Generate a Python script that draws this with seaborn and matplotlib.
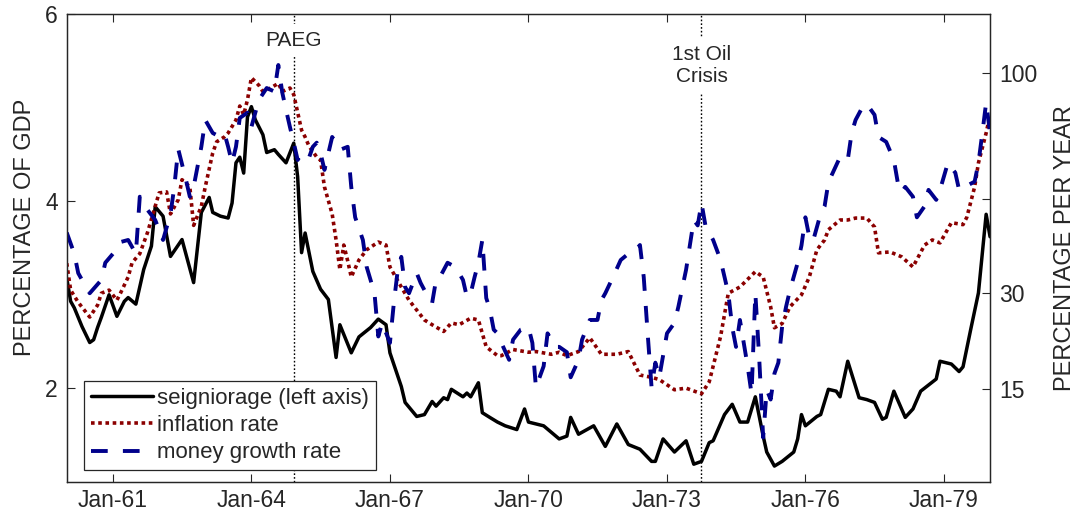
import numpy as np
import pandas as pd
import seaborn as sns
import matplotlib.pyplot as plt
import matplotlib.dates as mdates

# months counted from Jan-60 (0 = Jan-60, 240 = Jan-80)
seign_month = [0, 1, 2, 4, 6, 7, 8, 9, 11, 13,
               15, 16, 18, 20, 22, 23, 25, 27, 30, 33,
               35, 37, 38, 40, 42, 43, 44, 45, 46, 47,
               48, 49, 51, 52, 54, 55, 57, 59, 60, 61,
               62, 64, 66, 68, 70, 71, 74, 76, 79, 81,
               83, 84, 87, 88, 91, 93, 95, 96, 98, 99,
               100, 103, 104, 105, 107, 108, 110, 112, 114, 117,
               119, 120, 124, 126, 128, 130, 131, 133, 137, 140,
               143, 146, 149, 152, 153, 155, 158, 161, 163, 165,
               167, 168, 171, 173, 175, 177, 179, 181, 182, 184,
               186, 189, 190, 191, 192, 195, 196, 198, 200, 201,
               203, 206, 208, 210, 212, 213, 215, 218, 220, 222,
               226, 227, 230, 232, 233, 235, 237, 238, 239, 240]
# seigniorage, percentage of GDP (left axis)
seign_value = [3.18, 2.93, 2.86, 2.66, 2.49, 2.52, 2.65, 2.76, 3.00, 2.77,
               2.93, 2.97, 2.90, 3.27, 3.52, 3.94, 3.84, 3.41, 3.59, 3.13,
               3.88, 4.04, 3.88, 3.84, 3.82, 3.98, 4.41, 4.47, 4.30, 4.90,
               5.01, 4.87, 4.71, 4.52, 4.55, 4.50, 4.41, 4.62, 4.26, 3.45,
               3.66, 3.25, 3.06, 2.95, 2.33, 2.68, 2.38, 2.55, 2.65, 2.74,
               2.68, 2.38, 2.02, 1.85, 1.70, 1.72, 1.86, 1.81, 1.90, 1.88,
               1.99, 1.91, 1.95, 1.91, 2.06, 1.74, 1.69, 1.64, 1.60, 1.56,
               1.78, 1.64, 1.60, 1.53, 1.46, 1.49, 1.69, 1.51, 1.60, 1.38,
               1.62, 1.40, 1.35, 1.22, 1.22, 1.46, 1.32, 1.44, 1.19, 1.22,
               1.42, 1.44, 1.72, 1.83, 1.64, 1.64, 1.91, 1.49, 1.32, 1.17,
               1.22, 1.32, 1.46, 1.72, 1.60, 1.70, 1.72, 1.99, 1.97, 1.91,
               2.29, 1.90, 1.88, 1.85, 1.67, 1.69, 1.97, 1.69, 1.78, 1.97,
               2.10, 2.29, 2.26, 2.18, 2.23, 2.63, 3.02, 3.45, 3.86, 3.62]

infl_month = [0, 1, 3, 6, 8, 9, 11, 13, 14, 16,
              17, 19, 21, 23, 24, 26, 27, 29, 30, 32,
              33, 35, 36, 38, 39, 41, 42, 44, 45, 46,
              47, 48, 50, 51, 53, 55, 56, 58, 59, 61,
              62, 63, 65, 66, 67, 69, 70, 71, 72, 73,
              74, 76, 78, 81, 83, 84, 87, 89, 93, 95,
              98, 100, 102, 105, 107, 109, 112, 113, 116, 120,
              122, 126, 128, 130, 133, 136, 139, 143, 146, 149,
              152, 154, 158, 161, 165, 167, 170, 172, 175, 179,
              181, 183, 184, 186, 188, 191, 193, 195, 197, 198,
              201, 203, 205, 208, 210, 211, 214, 217, 220, 223,
              225, 227, 230, 233, 234, 236, 237, 239, 240]
# inflation, percentage per year (right axis)
infl_value = [36.0, 30.5, 28.2, 25.6, 27.7, 29.9, 30.5, 28.6, 29.9, 33.1,
              36.1, 38.1, 43.1, 50.0, 53.8, 54.1, 47.9, 51.8, 57.8, 55.6,
              44.9, 50.0, 55.6, 66.6, 70.6, 72.4, 73.9, 79.0, 84.8, 81.1,
              87.5, 97.7, 94.0, 91.2, 92.8, 95.0, 91.2, 92.8, 89.8, 75.0,
              72.4, 69.0, 65.2, 64.2, 55.6, 47.9, 41.3, 34.6, 40.1, 36.5,
              33.1, 36.7, 39.0, 40.8, 40.1, 35.2, 31.1, 28.6, 25.1, 24.3,
              23.2, 24.6, 24.3, 25.4, 25.1, 20.8, 19.5, 19.5, 20.4, 20.0,
              20.1, 19.7, 20.0, 19.5, 20.1, 22.2, 19.7, 19.7, 20.1, 16.8,
              16.5, 16.2, 14.9, 15.1, 14.4, 15.9, 22.4, 29.9, 31.1, 34.2,
              33.1, 27.4, 23.8, 24.5, 27.4, 29.6, 33.1, 39.0, 41.3, 43.8,
              46.3, 46.3, 46.8, 46.8, 44.5, 38.3, 38.5, 37.4, 35.2, 40.1,
              41.3, 40.6, 45.6, 45.1, 47.0, 55.6, 63.2, 73.9, 81.1]

money_month = [0, 2, 3, 5, 6, 9, 10, 12, 14, 16,
               18, 19, 21, 23, 25, 27, 28, 29, 31, 32,
               33, 34, 35, 36, 38, 39, 41, 42, 43, 44,
               45, 47, 48, 49, 50, 52, 54, 55, 56, 57,
               58, 59, 60, 61, 63, 64, 65, 66, 67, 69,
               70, 71, 73, 74, 75, 77, 78, 80, 81, 82,
               84, 85, 86, 87, 88, 89, 91, 92, 93, 95,
               96, 97, 99, 101, 102, 103, 104, 105, 106, 107,
               108, 109, 110, 111, 112, 113, 115, 116, 118, 120,
               121, 122, 124, 125, 127, 128, 130, 131, 133, 134,
               136, 138, 139, 140, 142, 144, 146, 148, 149, 150,
               151, 152, 153, 154, 156, 158, 159, 161, 163, 164,
               165, 166, 168, 170, 172, 173, 174, 175, 177, 178,
               179, 180, 181, 182, 183, 184, 185, 186, 187, 188,
               190, 191, 192, 193, 194, 196, 197, 198, 201, 203,
               204, 205, 207, 208, 210, 211, 213, 215, 216, 217,
               218, 220, 221, 223, 224, 226, 227, 229, 231, 232,
               236, 237, 238, 239, 240]
# money growth, percentage per year (right axis)
money_value = [43.1, 38.1, 33.9, 31.1, 29.9, 32.5, 36.1, 38.1, 40.8, 41.3,
               38.1, 52.7, 49.0, 46.3, 41.3, 47.9, 55.6, 68.0, 57.8, 52.7,
               55.6, 62.0, 68.8, 79.0, 73.9, 73.1, 73.9, 68.8, 63.2, 68.8,
               79.8, 82.0, 76.2, 82.0, 87.5, 92.8, 91.2, 104.0, 90.8, 83.2,
               76.2, 70.3, 64.2, 66.5, 65.0, 68.8, 70.3, 66.6, 60.9, 72.4,
               70.3, 67.7, 68.8, 55.6, 47.0, 41.3, 35.2, 29.9, 22.4, 24.6,
               21.4, 28.1, 33.9, 37.4, 31.1, 29.9, 33.9, 31.9, 30.5, 28.1,
               32.5, 33.1, 36.1, 35.2, 33.9, 32.5, 29.2, 29.9, 33.1, 36.1,
               41.3, 29.0, 27.0, 23.5, 22.9, 21.4, 18.9, 21.9, 23.5, 23.9,
               21.4, 15.2, 18.0, 22.9, 20.8, 20.8, 20.0, 16.5, 18.9, 21.9,
               25.1, 25.1, 28.6, 29.9, 33.1, 36.7, 38.1, 39.0, 40.1, 33.1,
               22.9, 15.2, 18.5, 16.5, 22.9, 24.6, 27.4, 34.6, 46.3, 44.9,
               50.9, 44.9, 41.3, 36.7, 29.9, 23.9, 20.8, 25.1, 18.0, 14.4,
               29.9, 19.0, 9.5, 14.9, 13.7, 17.0, 18.5, 24.0, 27.4, 30.5,
               36.1, 40.0, 47.0, 42.0, 41.0, 48.0, 50.0, 57.0, 65.2, 64.2,
               73.9, 79.0, 84.8, 85.6, 81.1, 72.4, 70.6, 64.2, 56.9, 54.0,
               55.6, 52.7, 47.0, 50.0, 54.7, 51.8, 54.7, 63.2, 60.0, 54.7,
               57.2, 63.2, 73.9, 86.3, 73.9]

tick_years = [1961, 1964, 1967, 1970, 1973, 1976, 1979]
left_ticks = [2, 4, 6]
right_ticks = [15, 30, 52, 100]
right_labels = ["15", "30", "", "100"]
event_labels = ["PAEG", "1st Oil\nCrisis"]
event_months = [59, 165]


def to_dates(months):
    return [pd.Timestamp(1960 + m // 12, m % 12 + 1, 1) for m in months]


# right axis spacing: log(rate + 14)
def right_fwd(v):
    return np.log(np.asarray(v, dtype=float) + 14.0)


def right_inv(f):
    return np.exp(f) - 14.0


sns.set_style("white")
plt.rcParams["font.family"] = ["Liberation Sans", "DejaVu Sans"]
grey = "#262626"

seign = pd.DataFrame({"date": to_dates(seign_month), "value": seign_value})
infl = pd.DataFrame({"date": to_dates(infl_month), "value": infl_value})
money = pd.DataFrame({"date": to_dates(money_month), "value": money_value})

fig = plt.figure(figsize=(10.85, 5.24), dpi=100)
ax = fig.add_axes([0.0615, 0.0802, 0.851, 0.8931])
ax2 = ax.twinx()
ax2.set_yscale("function", functions=(right_fwd, right_inv))

sns.lineplot(data=seign, x="date", y="value", ax=ax, color="black", lw=2.5,
             label="seigniorage (left axis)", legend=False)
sns.lineplot(data=infl, x="date", y="value", ax=ax2, color="#8b0000", lw=2.6,
             linestyle=(0, (1, 1)), label="inflation rate", legend=False)
sns.lineplot(data=money, x="date", y="value", ax=ax2, color="#00008b", lw=2.8,
             linestyle=(0, (4.3, 3.9)), label="money growth rate", legend=False)
handles = [ax.lines[0], ax2.lines[0], ax2.lines[1]]

# event markers
for label, m in zip(event_labels, event_months):
    d = to_dates([m])[0]
    ax.axvline(d, color="black", lw=1.0, ls=(0, (1.2, 1.5)), zorder=1)
ax.text(to_dates([event_months[0]])[0], 0.944, event_labels[0],
        transform=ax.get_xaxis_transform(), ha="center", va="center",
        fontsize=15, color=grey, zorder=5,
        bbox=dict(facecolor="white", edgecolor="none", pad=5))
ax.text(to_dates([event_months[1]])[0], 0.890, event_labels[1],
        transform=ax.get_xaxis_transform(), ha="center", va="center",
        fontsize=15, color=grey, zorder=5, linespacing=1.2,
        bbox=dict(facecolor="white", edgecolor="none", pad=5))

ax.set_xlim(pd.Timestamp("1960-01-01"), pd.Timestamp("1980-01-01"))
ax.set_ylim(1, 6)
ax.set_yticks(left_ticks)
ax2.set_ylim(5.38, 133.2)
ax2.set_yticks(right_ticks)
ax2.set_yticklabels(right_labels)
ax2.minorticks_off()

ax.set_xticks([pd.Timestamp(y, 1, 1) for y in tick_years])
ax.xaxis.set_major_formatter(mdates.DateFormatter("%b-%y"))

ax.tick_params(axis="x", direction="in", top=True, bottom=True, length=6,
               width=0.8, pad=5, labelsize=16.5, color=grey, labelcolor=grey)
ax.tick_params(axis="y", direction="in", left=True, right=False, length=6,
               width=0.8, pad=6.5, labelsize=16.5, color=grey, labelcolor=grey)
ax2.tick_params(axis="y", direction="in", right=True, left=False, length=6,
                width=0.8, pad=6.5, labelsize=16.5, color=grey, labelcolor=grey)

for a in (ax, ax2):
    for s in a.spines.values():
        s.set_visible(True)
        s.set_color(grey)
        s.set_linewidth(0.9)

ax.set_xlabel("")
ax.set_ylabel("PERCENTAGE OF GDP", fontsize=17, color=grey)
ax.yaxis.set_label_coords(-0.033, 0.543)
ax2.set_ylabel("PERCENTAGE PER YEAR", fontsize=17, color=grey)
ax2.yaxis.set_label_coords(1.069, 0.5)

leg = ax2.legend(handles, [h.get_label() for h in handles], loc="lower left",
                 bbox_to_anchor=(0.0187, 0.0256), borderaxespad=0,
                 frameon=True, fancybox=False, framealpha=1, fontsize=16,
                 handlelength=2.8, handletextpad=0.2, labelspacing=0.28,
                 borderpad=0.3)
leg.get_frame().set_edgecolor(grey)
leg.get_frame().set_linewidth(0.9)
for t in leg.get_texts():
    t.set_color(grey)

fig.savefig("out.png", dpi=100)
